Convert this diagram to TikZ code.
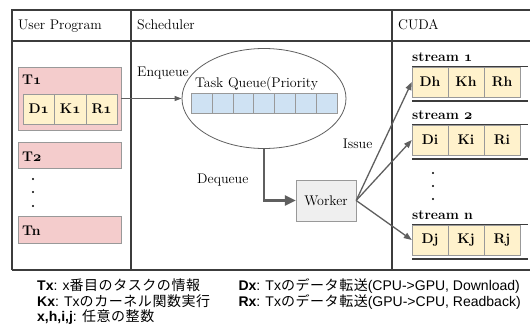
\documentclass[tikz,border=0pt]{standalone}
\usepackage{fontspec}
\newfontfamily\legfont{Liberation Sans}
\newfontfamily\jpfont[LetterSpace=4]{Noto Sans CJK JP}
\usetikzlibrary{arrows.meta,shapes.geometric}
\definecolor{TaskPink}{HTML}{F4CCCC}
\definecolor{CellYellow}{HTML}{FFF2CC}
\definecolor{QueueBlue}{HTML}{CFE2F3}
\definecolor{WorkerGray}{HTML}{EFEFEF}
\definecolor{EdgeGray}{HTML}{999999}
\definecolor{ArrowGray}{HTML}{5F5F5F}
\definecolor{RuleDark}{HTML}{3C3C3C}
\newcommand{\osn}[1]{{\usefont{OML}{cmm}{b}{it}#1}}
\newcommand{\jp}[1]{{\jpfont #1}}

\begin{document}
\begin{tikzpicture}[x=1pt,y=-1pt,font=\fontsize{14}{16}\selectfont,
  lbl/.style={anchor=base west,inner sep=0pt},
  taskbox/.style={draw=EdgeGray,fill=TaskPink,minimum width=103pt,inner sep=0pt},
  cell/.style={draw=EdgeGray,fill=CellYellow,minimum height=30pt,inner sep=0pt,font=\fontsize{14}{16}\selectfont\bfseries},
  qcell/.style={draw=EdgeGray,fill=QueueBlue,minimum width=20.86pt,minimum height=20pt,inner sep=0pt},
  flow/.style={draw=ArrowGray,line width=1.3pt,-{Triangle[length=8pt,width=6pt]}},
  leg/.style={anchor=base west,inner sep=0pt,font=\legfont\fontsize{14}{15}\selectfont}]
\useasboundingbox (0,0) rectangle (530,324);
% table
\draw[RuleDark,line width=1.2pt] (12,270) -- (12,10) -- (530,10) (12,41) -- (530,41) (12,270) -- (530,270) (131,10) -- (131,270) (392,10) -- (392,270);
\node[lbl] (hUser) at (18,29.5) {User Program};
\node[lbl] (hSched) at (137,29.5) {Scheduler};
\node[lbl] (hCuda) at (398,29.5) {CUDA};
% user program
\node[taskbox,minimum height=63pt] (t1) at (69.5,98.5) {};
\node[lbl,font=\fontsize{14}{16}\selectfont\bfseries] (t1lbl) at (22,84.3) {T\osn{1}};
\foreach \c [count=\k] in {D,K,R}
  \node[cell,minimum width=31.5pt] (\c1) at ({23+31.5*(\k-0.5)},109) {\c\osn{1}};
\node[taskbox,minimum height=26pt] (t2) at (69.5,155) {};
\node[lbl,font=\fontsize{14}{16}\selectfont\bfseries] (t2lbl) at (22,161) {T\osn{2}};
\foreach \y in {179,192,206} \fill (33,\y) circle (1.2pt);
\node[taskbox,minimum height=27pt] (tn) at (69.5,229.5) {};
\node[lbl,font=\fontsize{14}{16}\selectfont\bfseries] (tnlbl) at (22,235) {Tn};
% scheduler
\node[draw=ArrowGray,line width=0.8pt,ellipse,minimum width=164pt,minimum height=100pt,inner sep=0pt] (queue) at (264,98.5) {};
\node[lbl] (qlbl) at (195,87.7) {Task Queue(Priority};
\foreach \i in {0,...,6} \node[qcell] (q\i) at ({191+20.86*(\i+0.5)},103) {};
\node[draw=EdgeGray,fill=WorkerGray,minimum width=60pt,minimum height=41pt] (worker) at (326,200.5) {Worker};
\draw[flow,line width=0.9pt,-{Triangle[length=7pt,width=5pt]}] (t1) -- (queue);
\node[lbl] (enq) at (137,76) {Enqueue};
\draw[flow,line width=2.5pt,-{Triangle[length=11pt,width=10pt]}] (queue.south) |- (worker);
\node[lbl] (deq) at (197,183.3) {Dequeue};
\node[lbl] (iss) at (342.7,148.3) {Issue};
% cuda
\foreach \s/\y/\l in {\osn{1}/57/h,\osn{2}/115/i,n/215/j}{
  \node[lbl,font=\fontsize{14}{16}\selectfont\bfseries] (s\l) at (412,\y+4.5) {stream \s};
  \draw[RuleDark,line width=1pt] (412,\y+9) -- (528,\y+9);
  \foreach \c [count=\k] in {D,K,R}
    \node[cell,minimum width=36pt] (\c\l) at ({412+36*(\k-0.5)},\y+25) {\c\l};
  \draw[RuleDark,line width=1.8pt] (412,\y+44) -- (528,\y+44);
  \draw[flow] (worker.east) -- (D\l.west);
}
\foreach \y in {173,186,199} \fill (433,\y) circle (1.2pt);
% legend
\node[leg] (lgT) at (37,290.3) {\textbf{Tx}: x\jp{番目のタスクの情報}};
\node[leg] (lgK) at (37,306.3) {\textbf{Kx}: Tx\jp{のカーネル関数実行}};
\node[leg] (lgX) at (37,321.3) {\textbf{x,h,i,j}: \jp{任意の整数}};
\node[leg] (lgD) at (238.3,290.3) {\textbf{Dx}: Tx\jp{のデータ転送}(CPU->GPU, Download)};
\node[leg] (lgR) at (238.3,306.3) {\textbf{Rx}: Tx\jp{のデータ転送}(GPU->CPU, Readback)};
\end{tikzpicture}
\end{document}
